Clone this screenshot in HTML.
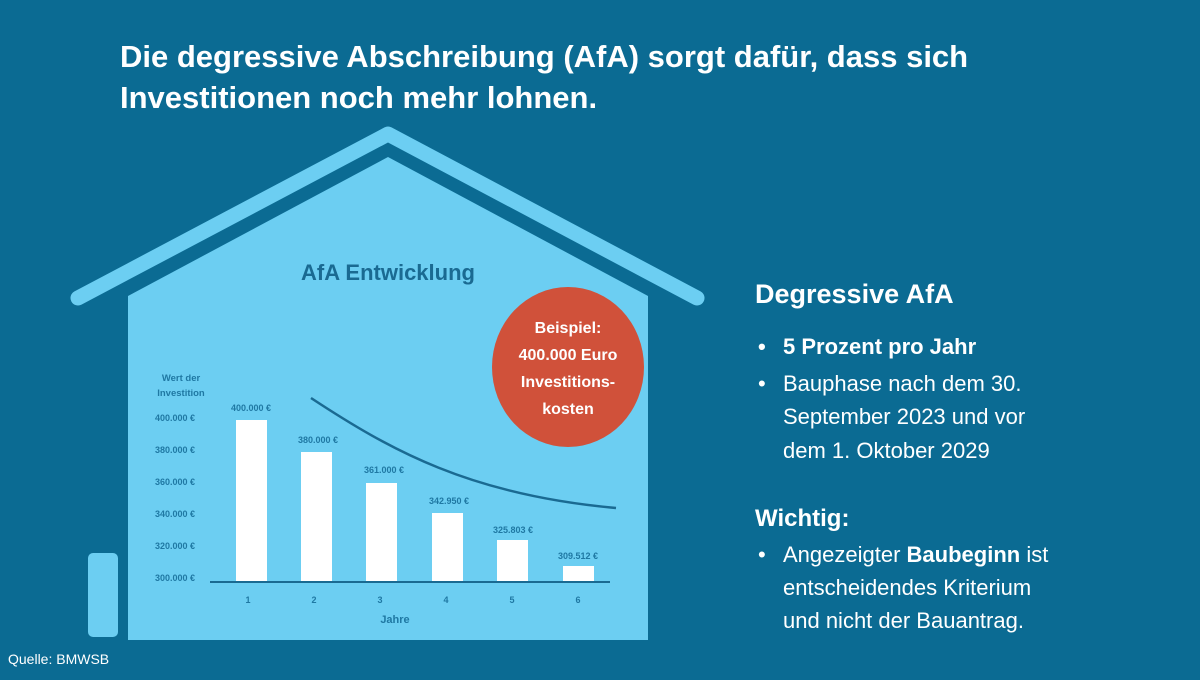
<!DOCTYPE html>
<html><head><meta charset="utf-8"><style>
html,body{margin:0;padding:0;}
body{width:1200px;height:675px;background:#0b6b93;overflow:hidden;font-family:"Liberation Sans",sans-serif;}
</style></head><body>
<svg width="1200" height="675" viewBox="0 0 1200 675" xmlns="http://www.w3.org/2000/svg" font-family="Liberation Sans, sans-serif">
<rect width="1200" height="675" fill="#0b6b93"/>
<text x="120" y="67" fill="#fff" font-size="31" font-weight="bold">Die degressive Abschreibung (AfA) sorgt dafür, dass sich</text>
<text x="120" y="108" fill="#fff" font-size="31" font-weight="bold">Investitionen noch mehr lohnen.</text>
<!-- roof -->
<polyline points="78,298 388,134 697,298" fill="none" stroke="#6ccef2" stroke-width="15" stroke-linecap="round" stroke-linejoin="round"/>
<!-- body -->
<polygon points="128,296 388,157 648,296 648,640 128,640" fill="#6ccef2"/>
<!-- door -->
<rect x="88" y="553" width="30" height="84" rx="5" fill="#6ccef2"/>
<text x="388" y="280" text-anchor="middle" fill="#1a6a92" font-size="22" font-weight="bold">AfA Entwicklung</text>
<!-- y labels -->
<g fill="#1f78a3" font-size="9.5" font-weight="bold" text-anchor="middle">
<text x="181" y="381">Wert der</text>
<text x="181" y="396">Investition</text>
</g>
<g fill="#1f78a3" font-size="9" font-weight="bold">
<text x="155" y="421">400.000 €</text>
<text x="155" y="453">380.000 €</text>
<text x="155" y="485">360.000 €</text>
<text x="155" y="517">340.000 €</text>
<text x="155" y="549">320.000 €</text>
<text x="155" y="581">300.000 €</text>
</g>
<g fill="#fff">
<rect x="236" y="420" width="31" height="162"/>
<rect x="301" y="452" width="31" height="130"/>
<rect x="366" y="483" width="31" height="99"/>
<rect x="432" y="513" width="31" height="69"/>
<rect x="497" y="540" width="31" height="42"/>
<rect x="563" y="566" width="31" height="16"/>
</g>
<line x1="210" y1="582" x2="610" y2="582" stroke="#1a6a92" stroke-width="2"/>
<g fill="#1f78a3" font-size="9" font-weight="bold" text-anchor="middle">
<text x="251" y="411">400.000 €</text>
<text x="318" y="443">380.000  €</text>
<text x="384" y="473">361.000 €</text>
<text x="449" y="504">342.950 €</text>
<text x="513" y="533">325.803 €</text>
<text x="578" y="559">309.512 €</text>
<text x="248" y="603">1</text><text x="314" y="603">2</text><text x="380" y="603">3</text>
<text x="446" y="603">4</text><text x="512" y="603">5</text><text x="578" y="603">6</text>
<text x="395" y="623" font-size="11">Jahre</text>
</g>
<path d="M311,398 C390,450 470,495 616,508" fill="none" stroke="#1a6a92" stroke-width="2.5"/>
<ellipse cx="568" cy="367" rx="76" ry="80" fill="#d0513a"/>
<g fill="#fff" font-size="16" font-weight="bold" text-anchor="middle">
<text x="568" y="333">Beispiel:</text>
<text x="568" y="360">400.000 Euro</text>
<text x="568" y="387">Investitions-</text>
<text x="568" y="414">kosten</text>
</g>
<g fill="#fff">
<text x="755" y="303" font-size="27" font-weight="bold">Degressive AfA</text>
<text x="758" y="354" font-size="22" font-weight="bold">•</text>
<text x="783" y="354" font-size="22" font-weight="bold">5 Prozent pro Jahr</text>
<text x="758" y="391" font-size="22">•</text>
<text x="783" y="391" font-size="22">Bauphase nach dem 30.</text>
<text x="783" y="424" font-size="22">September 2023 und vor</text>
<text x="783" y="458" font-size="22">dem 1. Oktober 2029</text>
<text x="755" y="526" font-size="24" font-weight="bold">Wichtig:</text>
<text x="758" y="562" font-size="22">•</text>
<text x="783" y="562" font-size="22">Angezeigter <tspan font-weight="bold">Baubeginn</tspan> ist</text>
<text x="783" y="595" font-size="22">entscheidendes Kriterium</text>
<text x="783" y="628" font-size="22">und nicht der Bauantrag.</text>
<text x="8" y="664" font-size="14">Quelle: BMWSB</text>
</g>
</svg>
</body></html>
